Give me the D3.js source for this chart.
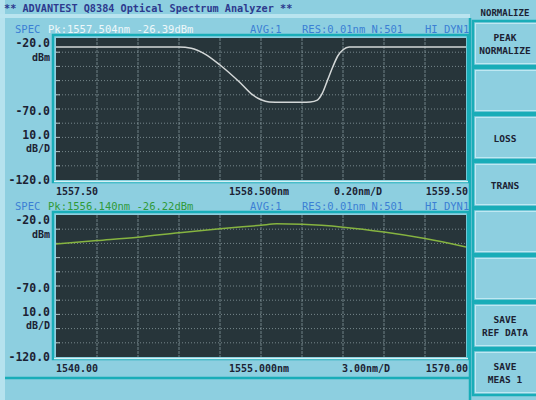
<!DOCTYPE html>
<html><head><meta charset="utf-8">
<script src="https://cdn.jsdelivr.net/npm/d3@7/dist/d3.min.js"></script>
<style>
html,body{margin:0;padding:0;background:#8dcfe0;}
svg{display:block;}
text{font-family:"DejaVu Sans Mono",monospace;}
</style></head>
<body><svg id="c" width="536" height="400"></svg>
<script>
// ---- data ----
const title = "** ADVANTEST Q8384 Optical Spectrum Analyzer **";
const topWl  = [1557.50, 1557.80, 1558.10, 1558.16, 1558.227, 1558.30, 1558.40, 1558.46, 1558.50, 1558.54, 1558.60, 1558.70, 1558.74, 1558.775, 1558.80, 1558.825, 1558.85, 1558.875, 1558.90, 1558.93, 1559.20, 1559.50];
const topDbm = [-26.4, -26.4, -26.4, -27.2, -31.3, -39.0, -51.7, -60.1, -63.5, -65.0, -65.2, -65.2, -65.0, -63.7, -58.7, -49.5, -40.4, -32.5, -28.3, -26.4, -26.4, -26.4];
const botWl  = [1540, 1543, 1546, 1549, 1552, 1555, 1556.14, 1558, 1561, 1564, 1567, 1570];
const botDbm = [-40.4, -38.0, -35.6, -32.5, -29.6, -27.2, -26.22, -26.6, -28.6, -32.0, -36.6, -42.5];
const topXDomain = [1557.50, 1559.50];
const botXDomain = [1540.00, 1570.00];
const yDomain = [-120, -20];
const yTicks = [-20, -70, -120];
const topXLabels = ["1557.50", "1558.500nm", "0.20nm/D", "1559.50"];
const botXLabels = ["1540.00", "1555.000nm", "3.00nm/D", "1570.00"];
const topPk = "Pk:1557.504nm -26.39dBm";
const botPk = "Pk:1556.140nm -26.22dBm";
const hdrRight = ["AVG:1", "RES:0.01nm N:501", "HI DYN1"];
const buttons = [["PEAK","NORMALIZE"],[],["LOSS"],["TRANS"],[],[],["SAVE","REF DATA"],["SAVE","MEAS 1"]];

const svg = d3.select("#c");
const teal = "#19adb8", navy = "#1c2233", blue = "#3b7fd4";

// background pieces
svg.append("rect").attr("x",0).attr("y",0).attr("width",536).attr("height",400).attr("fill","#8dcfe0");
svg.append("rect").attr("x",0).attr("y",0).attr("width",5).attr("height",400).attr("fill","#b5e2ee");
svg.append("rect").attr("x",0).attr("y",14).attr("width",470).attr("height",4).attr("fill","#b9e4ef");
// title
svg.append("text").attr("x",4).attr("y",12).attr("font-size",10.2).attr("fill","#2d3a8e").attr("font-weight","bold").text(title);
svg.append("text").attr("x",505).attr("y",16).attr("font-size",9).attr("fill",navy).attr("font-weight","bold").attr("text-anchor","middle").text("NORMALIZE");

// left panel frame
svg.append("line").attr("x1",470).attr("x2",470).attr("y1",18).attr("y2",400).attr("stroke",teal).attr("stroke-width",2.5);
svg.append("line").attr("x1",5).attr("x2",470).attr("y1",378).attr("y2",378).attr("stroke",teal).attr("stroke-width",2.5);

// buttons
const by = d3.scaleLinear().domain([0,8]).range([20,396]);
buttons.forEach((b,i)=>{
  const y0 = by(i), y1 = by(i+1);
  svg.append("rect").attr("x",473).attr("y",y0+1).attr("width",66).attr("height",y1-y0-2)
    .attr("fill","#8dcfe0").attr("stroke",teal).attr("stroke-width",2.5);
  svg.append("rect").attr("x",475.5).attr("y",y0+3.5).attr("width",62).attr("height",y1-y0-7)
    .attr("fill","none").attr("stroke","#bfe8f2").attr("stroke-width",1);
  const cy = (y0+y1)/2;
  b.forEach((t,j)=>{
    svg.append("text").attr("x",505).attr("y",cy + 4 + (j-(b.length-1)/2)*13)
      .attr("text-anchor","middle").attr("font-size",9.5).attr("font-weight","bold").attr("fill",navy).text(t);
  });
});

function panel(opt){
  const x = d3.scaleLinear().domain(opt.xd).range([56,466]);
  const y = d3.scaleLinear().domain(yDomain).range([opt.bottom, opt.top]);
  const g = svg.append("g");
  // header
  const hy = opt.top-5;
  g.append("text").attr("x",15).attr("y",hy).attr("font-size",10.5).attr("fill",blue).text("SPEC");
  g.append("text").attr("x",48).attr("y",hy).attr("font-size",10.5).attr("fill",opt.pkColor).text(opt.pk);
  [250,302,425].forEach((px,i)=>g.append("text").attr("x",px).attr("y",hy).attr("font-size",10.5).attr("fill",blue).text(hdrRight[i]));
  // teal frame around plot
  g.append("rect").attr("x",x.range()[0]-3).attr("y",opt.top-3).attr("width",x.range()[1]-x.range()[0]+5).attr("height",opt.bottom-opt.top+5)
    .attr("fill","none").attr("stroke",teal).attr("stroke-width",2.5);
  g.append("line").attr("x1",x.range()[0]-2).attr("x2",x.range()[1]+2).attr("y1",opt.bottom+1.5).attr("y2",opt.bottom+1.5).attr("stroke","#d6f0f5").attr("stroke-width",1.5);
  // plot area
  g.append("rect").attr("x",56).attr("y",opt.top).attr("width",410).attr("height",opt.bottom-opt.top).attr("fill","#27353a");
  // grid
  const xs = d3.range(1,10).map(i=>opt.xd[0]+(opt.xd[1]-opt.xd[0])*i/10);
  const ys = d3.range(1,10).map(i=>yDomain[0]+(yDomain[1]-yDomain[0])*i/10);
  g.selectAll(null).data(xs).join("line").attr("x1",d=>x(d)).attr("x2",d=>x(d)).attr("y1",opt.top).attr("y2",opt.bottom)
    .attr("stroke","#8a9ca0").attr("stroke-width",1).attr("stroke-dasharray","3,1").attr("opacity",0.75);
  g.selectAll(null).data(ys).join("line").attr("x1",56).attr("x2",466).attr("y1",d=>y(d)).attr("y2",d=>y(d))
    .attr("stroke","#8a9ca0").attr("stroke-width",1).attr("stroke-dasharray","1,2").attr("opacity",0.8);
  g.selectAll(null).data(ys).join("line").attr("x1",56).attr("x2",60).attr("y1",d=>y(d)).attr("y2",d=>y(d))
    .attr("stroke","#b0c0c4").attr("stroke-width",1);
  // trace
  const pts = opt.wl.map((w,i)=>[w,opt.v[i]]);
  g.append("path").datum(pts).attr("fill","none").attr("stroke",opt.color).attr("stroke-width",1.5)
    .attr("d",d3.line().x(d=>x(d[0])).y(d=>y(d[1])).curve(d3.curveMonotoneX));
  // y labels
  const yo = {"-20":5, "-70":2, "-120":0};
  yTicks.forEach(t=>{
    g.append("text").attr("x",50).attr("y",y(t)+yo[t]+4).attr("text-anchor","end").attr("font-size",11.5).attr("font-weight","bold").attr("fill",navy).text(t.toFixed(1));
  });
  g.append("text").attr("x",50).attr("y",y(-20)+23).attr("text-anchor","end").attr("font-size",10).attr("font-weight","bold").attr("fill",navy).text("dBm");
  g.append("text").attr("x",50).attr("y",y(-70)+30).attr("text-anchor","end").attr("font-size",11.5).attr("font-weight","bold").attr("fill",navy).text("10.0");
  g.append("text").attr("x",50).attr("y",y(-70)+43).attr("text-anchor","end").attr("font-size",10).attr("font-weight","bold").attr("fill",navy).text("dB/D");
  // x labels
  const ly = opt.bottom + 15;
  g.append("text").attr("x",x(opt.xd[0])).attr("y",ly).attr("font-size",10).attr("font-weight","bold").attr("fill",navy).text(opt.xl[0]);
  g.append("text").attr("x",259).attr("y",ly).attr("text-anchor","middle").attr("font-size",10).attr("font-weight","bold").attr("fill",navy).text(opt.xl[1]);
  g.append("text").attr("x",opt.divX).attr("y",ly).attr("text-anchor","middle").attr("font-size",10).attr("font-weight","bold").attr("fill",navy).text(opt.xl[2]);
  g.append("text").attr("x",x(opt.xd[1])+2).attr("y",ly).attr("text-anchor","end").attr("font-size",10).attr("font-weight","bold").attr("fill",navy).text(opt.xl[3]);
}

panel({xd:topXDomain, top:38, bottom:180, wl:topWl, v:topDbm, color:"#d4d8d8", pk:topPk, pkColor:"#eef8fa", xl:topXLabels, divX:358});
panel({xd:botXDomain, top:215, bottom:357, wl:botWl, v:botDbm, color:"#86b440", pk:botPk, pkColor:"#2f9a3a", xl:botXLabels, divX:366});
</script></body></html>
